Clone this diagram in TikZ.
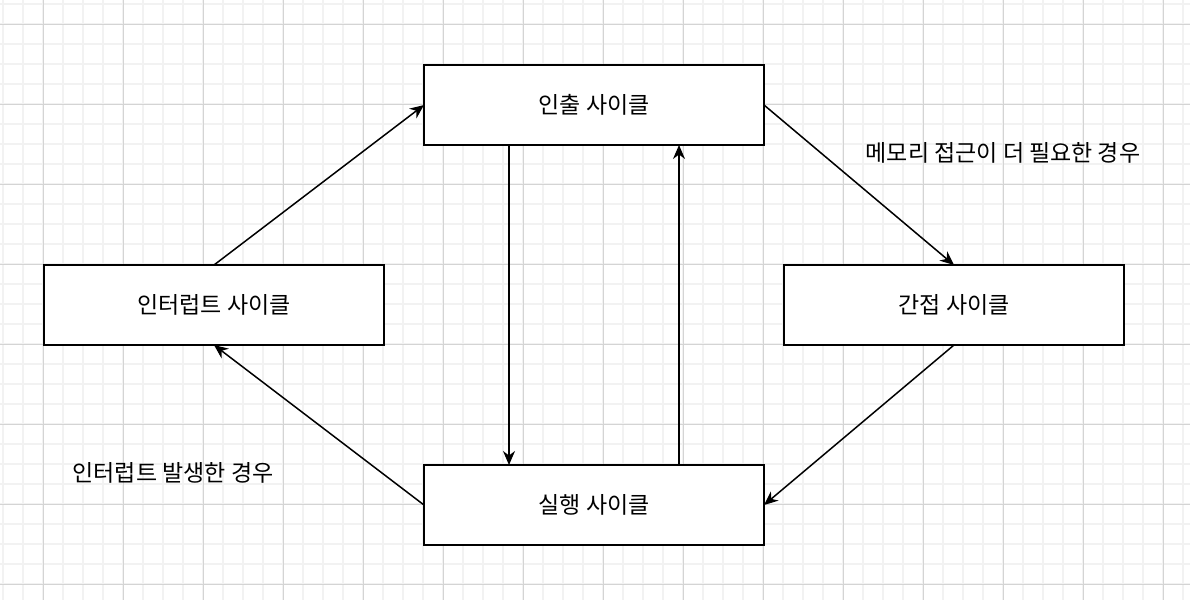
\documentclass[tikz,border=0pt]{standalone}
\usepackage{fontspec}
\setmainfont{Noto Sans CJK KR}
\usepackage{tikz}
\usetikzlibrary{arrows.meta, positioning}
\definecolor{gridminor}{RGB}{242,242,242}
\definecolor{gridmajor}{RGB}{212,212,212}
\tikzset{
  cyclenode/.style={rectangle,draw=black,fill=white,line width=1.6pt,outer sep=0pt,minimum width=340pt,minimum height=80pt,inner sep=0pt,font=\fontsize{23}{27}\selectfont},
  condlabel/.style={inner sep=0pt,font=\fontsize{23}{27}\selectfont},
  arr/.style={-{Stealth[length=14pt,width=12pt,inset=4.5pt]},line width=1.5pt,color=black}
}

\begin{document}
\begin{tikzpicture}[x=1pt,y=-1pt]
  % background grid
  \fill[white] (0,0) rectangle (1190,600);
  \useasboundingbox (0,0) rectangle (1190,600);
  \foreach \gx in {3,23,...,1190} \draw[gridminor,line width=1.2pt] (\gx,0) -- (\gx,600);
  \foreach \gy in {4,24,...,600} \draw[gridminor,line width=1.2pt] (0,\gy) -- (1190,\gy);
  \foreach \gx in {43,123,...,1190} \draw[gridmajor,line width=0.9pt] (\gx,0) -- (\gx,600);
  \foreach \gy in {24,104,...,600} \draw[gridmajor,line width=0.9pt] (0,\gy) -- (1190,\gy);

  \node[cyclenode] (fetch) at (594,105) {인출 사이클};
  \node[cyclenode,below=320pt of fetch] (exec) {실행 사이클};
  \node[cyclenode,left=40pt of fetch,yshift=-200pt] (intr) {인터럽트 사이클};
  \node[cyclenode,right=20pt of fetch,yshift=-200pt] (indir) {간접 사이클};

  \node[condlabel] (memcond) at (1003,153) {메모리 접근이 더 필요한 경우};
  \node[condlabel] (intcond) at (173,473) {인터럽트 발생한 경우};

  \draw[arr] (intr.north) -- (fetch.west);
  \draw[arr] (fetch.east) -- (indir.north);
  \draw[arr] (indir.south) -- (exec.east);
  \draw[arr] (exec.west) -- (intr.south);
  \draw[arr] ([xshift=-85pt]fetch.south) -- ([xshift=-85pt]exec.north);
  \draw[arr] ([xshift=85pt]exec.north) -- ([xshift=85pt]fetch.south);
\end{tikzpicture}
\end{document}
